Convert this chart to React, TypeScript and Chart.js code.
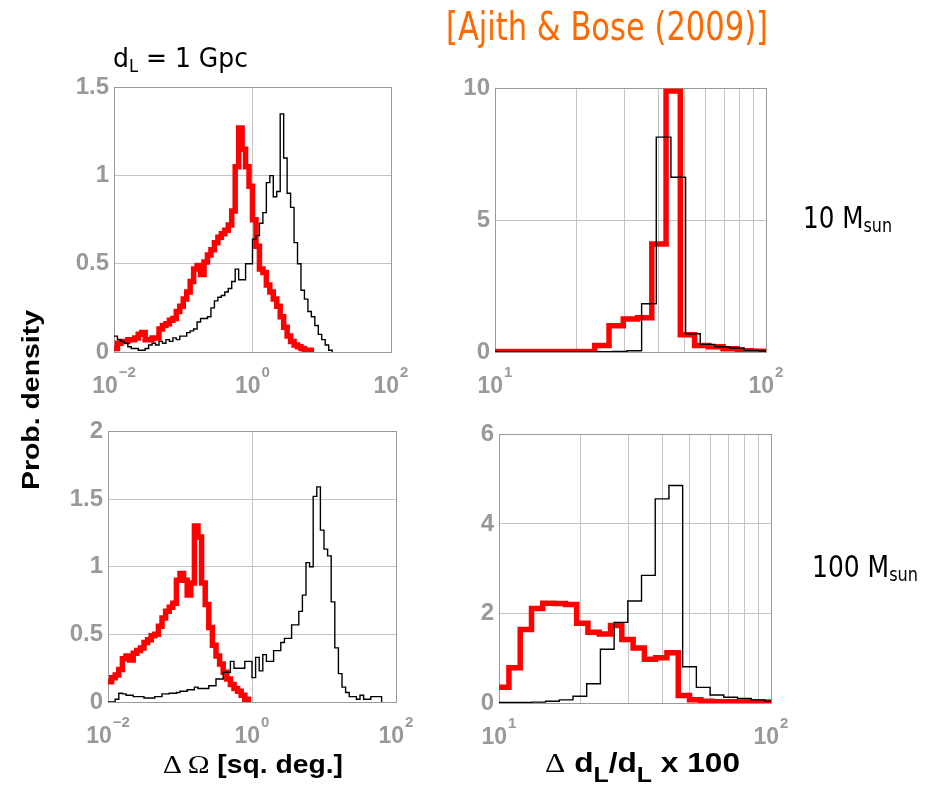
import React, { useEffect, useRef } from "react";
import { Chart, registerables } from "chart.js";

Chart.register(...registerables);

// ---------- Data (histogram heights; bins are uniform in log10) ----------
// Top-left: sky-position error, 10 Msun
const p1BlackLogStart = -2.0;
const p1BlackLogStep = 0.05;
const p1Black = [0.09, 0.07, 0.06, 0.05, 0.03, 0.02, 0.02, 0.01, 0.01, 0.02, 0.04, 0.05, 0.04, 0.06, 0.05, 0.07, 0.06, 0.08, 0.07, 0.09, 0.09, 0.11, 0.12, 0.13, 0.17, 0.19, 0.19, 0.2, 0.25, 0.29, 0.31, 0.32, 0.34, 0.36, 0.4, 0.47, 0.41, 0.41, 0.5, 0.5, 0.64, 0.66, 0.73, 0.79, 0.96, 1.0, 0.88, 0.91, 1.35, 1.1, 0.9, 0.82, 0.62, 0.5, 0.35, 0.3, 0.23, 0.2, 0.15, 0.1, 0.07, 0.04, 0.01];
const p1RedLogStart = -2.0;
const p1RedLogStep = 0.05;
const p1Red = [0.02, 0.05, 0.06, 0.06, 0.07, 0.07, 0.08, 0.1, 0.11, 0.07, 0.07, 0.08, 0.08, 0.13, 0.15, 0.16, 0.18, 0.19, 0.23, 0.26, 0.3, 0.34, 0.4, 0.47, 0.49, 0.44, 0.51, 0.55, 0.58, 0.62, 0.65, 0.67, 0.69, 0.72, 0.8, 1.05, 1.27, 1.15, 1.05, 0.94, 0.75, 0.6, 0.47, 0.45, 0.38, 0.34, 0.3, 0.26, 0.2, 0.14, 0.09, 0.06, 0.04, 0.03, 0.02, 0.01, 0.01];

// Top-right: distance error, 10 Msun
const p2BlackLogStart = 1.0;
const p2BlackLogStep = 0.0541;
const p2Black = [0, 0, 0, 0, 0, 0, 0, 0.01, 0.02, 0.05, 1.83, 8.15, 6.63, 0.69, 0.29, 0.2, 0.15, 0.06, 0.04];
const p2RedLogStart = 1.0;
const p2RedLogStep = 0.0526;
const p2Red = [0.02, 0.02, 0.02, 0.02, 0.02, 0.02, 0.02, 0.25, 1.0, 1.25, 1.3, 4.1, 9.9, 0.65, 0.25, 0.2, 0.12, 0.05, 0.03];

// Bottom-left: sky-position error, 100 Msun
const p3BlackLogStart = -2.0;
const p3BlackLogStep = 0.05;
const p3Black = [0, 0, 0.02, 0.065, 0.06, 0.05, 0.05, 0.04, 0.04, 0.04, 0.03, 0.03, 0.03, 0.04, 0.04, 0.06, 0.06, 0.065, 0.065, 0.07, 0.08, 0.08, 0.09, 0.09, 0.11, 0.1, 0.1, 0.1, 0.12, 0.12, 0.17, 0.17, 0.22, 0.22, 0.3, 0.25, 0.25, 0.25, 0.3, 0.3, 0.18, 0.33, 0.23, 0.35, 0.3, 0.3, 0.38, 0.38, 0.44, 0.47, 0.47, 0.57, 0.57, 0.67, 0.79, 1.03, 1.0, 1.52, 1.59, 1.27, 1.13, 1.08, 0.74, 0.4, 0.21, 0.11, 0.07, 0.04, 0.04, 0.02, 0.05, 0.02, 0.02, 0.04, 0.04, 0.04];
const p3RedLogStart = -2.0;
const p3RedLogStep = 0.05;
const p3Red = [0.15, 0.18, 0.2, 0.24, 0.32, 0.34, 0.31, 0.36, 0.38, 0.4, 0.44, 0.46, 0.49, 0.5, 0.56, 0.62, 0.67, 0.7, 0.73, 0.9, 0.95, 0.9, 0.79, 0.88, 1.3, 1.22, 0.88, 0.72, 0.55, 0.42, 0.34, 0.28, 0.22, 0.17, 0.13, 0.1, 0.08, 0.05, 0.02];

// Bottom-right: distance error, 100 Msun
const p4BlackLogStart = 0.9696;
const p4BlackLogStep = 0.0504;
const p4Black = [0.01, 0.01, 0.01, 0.02, 0.04, 0.07, 0.15, 0.43, 1.2, 1.8, 2.28, 2.85, 4.56, 4.86, 0.81, 0.35, 0.18, 0.13, 0.1, 0.07, 0.04];
const p4RedLogStart = 0.995;
const p4RedLogStep = 0.0415;
const p4Red = [0.35, 0.79, 1.64, 2.11, 2.23, 2.22, 2.2, 1.78, 1.58, 1.54, 1.73, 1.42, 1.23, 0.98, 1.01, 1.12, 0.17, 0.07, 0.04, 0.03, 0.03, 0.02, 0.02, 0.02, 0.02];

// Axis ticks
const omegaGridTicks = [0.01, 1, 100];
const omegaLabelTicks = [0.01, 1, 100];
const distGridTicks = [10, 20, 30, 40, 50, 60, 70, 80, 90, 100];
const distLabelTicks = [10, 100];

// ---------- Styling ----------
const SANS = '"Liberation Sans", Arial, Helvetica, sans-serif';
const NARROW = '"Liberation Sans Narrow", "DejaVu Sans Condensed", "Liberation Sans", sans-serif';
const SERIF = '"Liberation Serif", "Times New Roman", serif';
const TICK_GRAY = "#999999";
const GRID = "#c4c4c4";
const BOX = "#9a9a9a";
const YW = 55; // y-axis width
const XH = 50; // x-axis height
const PT = 15; // top padding
const PR = 32; // right padding

function stairs(logStart: number, logStep: number, heights: number[]) {
  const pts = heights.map((h, i) => ({ x: Math.pow(10, logStart + i * logStep), y: h }));
  pts.push({ x: Math.pow(10, logStart + heights.length * logStep), y: 0 });
  return pts;
}

const boxAndLabels = {
  id: "boxAndLabels",
  beforeDatasetsDraw(chart: any) {
    const { ctx, chartArea } = chart;
    ctx.save();
    ctx.strokeStyle = BOX;
    ctx.lineWidth = 1;
    ctx.strokeRect(
      Math.round(chartArea.left) + 0.5,
      Math.round(chartArea.top) + 0.5,
      Math.round(chartArea.right - chartArea.left),
      Math.round(chartArea.bottom - chartArea.top)
    );
    ctx.restore();
  },
  afterDraw(chart: any, _args: any, opts: any) {
    const { ctx, chartArea } = chart;
    const scale = chart.scales.x;
    ctx.save();
    ctx.fillStyle = TICK_GRAY;
    ctx.textBaseline = "alphabetic";
    ctx.textAlign = "left";
    for (const v of opts.values as number[]) {
      const exp = Math.round(Math.log10(v));
      const expStr = exp < 0 ? "\u2212" + String(-exp) : String(exp);
      const px = scale.getPixelForValue(v);
      ctx.font = `bold 23px ${SANS}`;
      const wb = ctx.measureText("10").width;
      ctx.font = `bold 15px ${SANS}`;
      const we = ctx.measureText(expStr).width;
      const x0 = px - (wb + 1 + we) / 2;
      ctx.font = `bold 23px ${SANS}`;
      ctx.fillText("10", x0, chartArea.bottom + 41);
      ctx.font = `bold 15px ${SANS}`;
      ctx.fillText(expStr, x0 + wb + 1, chartArea.bottom + 25);
    }
    ctx.restore();
  },
};

type Series = { points: { x: number; y: number }[]; color: string; width: number };
type PanelProps = {
  L: number; T: number; R: number; B: number;
  yMax: number; yStep: number;
  xMin: number; xMax: number;
  gridTicks: number[]; labelTicks: number[];
  series: Series[];
};

function Panel(p: PanelProps) {
  const ref = useRef<HTMLCanvasElement | null>(null);
  const width = YW + (p.R - p.L) + PR;
  const height = PT + (p.B - p.T) + XH;
  useEffect(() => {
    if (!ref.current) return;
    const chart = new Chart(ref.current, {
      type: "line",
      data: {
        datasets: p.series.map((s) => ({
          data: s.points,
          borderColor: s.color,
          backgroundColor: s.color,
          borderWidth: s.width,
          pointRadius: 0,
          stepped: "before" as const,
          fill: false,
          borderJoinStyle: "miter" as const,
          borderCapStyle: "butt" as const,
        })),
      },
      options: {
        animation: false,
        responsive: false,
        maintainAspectRatio: false,
        layout: { padding: { top: PT, right: PR, left: 0, bottom: 0 } },
        plugins: {
          legend: { display: false },
          tooltip: { enabled: false },
          boxAndLabels: { values: p.labelTicks },
        } as any,
        scales: {
          x: {
            type: "logarithmic",
            min: p.xMin,
            max: p.xMax,
            afterBuildTicks: (s: any) => {
              s.ticks = p.gridTicks.map((v) => ({ value: v }));
            },
            afterFit: (s: any) => {
              s.height = XH;
            },
            ticks: { display: false },
            grid: { color: GRID, drawTicks: false, lineWidth: 1 },
            border: { display: false },
          },
          y: {
            type: "linear",
            min: 0,
            max: p.yMax,
            ticks: {
              stepSize: p.yStep,
              color: TICK_GRAY,
              padding: 5,
              font: { family: SANS, size: 24, weight: "bold" },
              callback: (v: any) => String(Math.round(Number(v) * 100) / 100),
            },
            afterFit: (s: any) => {
              s.width = YW;
            },
            grid: { color: GRID, drawTicks: false, lineWidth: 1 },
            border: { display: false },
          },
        },
      } as any,
      plugins: [boxAndLabels],
    });
    return () => chart.destroy();
  }, []);
  return (
    <canvas
      ref={ref}
      width={width}
      height={height}
      style={{ position: "absolute", left: p.L - YW, top: p.T - PT, width, height }}
    />
  );
}

export default function App() {
  const red = "#ff0000";
  const black = "#000000";
  return (
    <div style={{ position: "absolute", left: 0, top: 0, width: 930, height: 789, background: "#fff", overflow: "hidden" }}>
      <Panel
        L={114} T={83} R={391} B={352}
        yMax={1.5} yStep={0.5} xMin={0.01} xMax={100}
        gridTicks={omegaGridTicks} labelTicks={omegaLabelTicks}
        series={[
          { points: stairs(p1BlackLogStart, p1BlackLogStep, p1Black), color: black, width: 1.4 },
          { points: stairs(p1RedLogStart, p1RedLogStep, p1Red), color: red, width: 5.5 },
        ]}
      />
      <Panel
        L={495} T={84} R={766} B={352}
        yMax={10} yStep={5} xMin={10} xMax={100}
        gridTicks={distGridTicks} labelTicks={distLabelTicks}
        series={[
          { points: stairs(p2BlackLogStart, p2BlackLogStep, p2Black), color: black, width: 1.4 },
          { points: stairs(p2RedLogStart, p2RedLogStep, p2Red), color: red, width: 5.5 },
        ]}
      />
      <Panel
        L={108} T={427} R={396} B={702}
        yMax={2} yStep={0.5} xMin={0.01} xMax={100}
        gridTicks={omegaGridTicks} labelTicks={omegaLabelTicks}
        series={[
          { points: stairs(p3BlackLogStart, p3BlackLogStep, p3Black), color: black, width: 1.4 },
          { points: stairs(p3RedLogStart, p3RedLogStep, p3Red), color: red, width: 5.5 },
        ]}
      />
      <Panel
        L={499} T={430} R={771} B={703}
        yMax={6} yStep={2} xMin={10} xMax={100}
        gridTicks={distGridTicks} labelTicks={distLabelTicks}
        series={[
          { points: stairs(p4BlackLogStart, p4BlackLogStep, p4Black), color: black, width: 1.4 },
          { points: stairs(p4RedLogStart, p4RedLogStep, p4Red), color: red, width: 5.5 },
        ]}
      />
      <svg width={930} height={789} style={{ position: "absolute", left: 0, top: 0, pointerEvents: "none" }}>
        <text x={446} y={40} fill="#ff6a00" fontFamily={NARROW} fontSize={39} textLength={322} lengthAdjust="spacingAndGlyphs">
          [Ajith &amp; Bose (2009)]
        </text>
        <text x={113} y={67} fill="#000" fontFamily={NARROW} fontSize={26} textLength={135} lengthAdjust="spacingAndGlyphs">
          d<tspan dy={5} fontSize={17}>L</tspan><tspan dy={-5}> = 1 Gpc</tspan>
        </text>
        <text x={803} y={228} fill="#000" fontFamily={NARROW} fontSize={31} textLength={89} lengthAdjust="spacingAndGlyphs">
          10 M<tspan dy={4} fontSize={20}>sun</tspan>
        </text>
        <text x={812} y={577} fill="#000" fontFamily={NARROW} fontSize={31} textLength={106} lengthAdjust="spacingAndGlyphs">
          100 M<tspan dy={4} fontSize={20}>sun</tspan>
        </text>
        <text
          transform="translate(39,400) rotate(-90)"
          textAnchor="middle"
          fill="#000"
          fontFamily={SANS}
          fontWeight="bold"
          fontSize={24}
          textLength={180}
          lengthAdjust="spacingAndGlyphs"
        >
          Prob. density
        </text>
        <text x={163} y={773} fill="#000" fontFamily={SANS} fontWeight="bold" fontSize={25} textLength={180} lengthAdjust="spacingAndGlyphs">
          <tspan fontFamily={SERIF} fontWeight="normal" fontSize={26}>Δ Ω</tspan> [sq. deg.]
        </text>
        <text x={545} y={772} fill="#000" fontFamily={SANS} fontWeight="bold" fontSize={28} textLength={195} lengthAdjust="spacingAndGlyphs">
          <tspan fontFamily={SERIF} fontWeight="normal">Δ</tspan> d<tspan dy={10} fontSize={22}>L</tspan><tspan dy={-10}>/d</tspan><tspan dy={10} fontSize={22}>L</tspan><tspan dy={-10}> x 100</tspan>
        </text>
      </svg>
    </div>
  );
}
